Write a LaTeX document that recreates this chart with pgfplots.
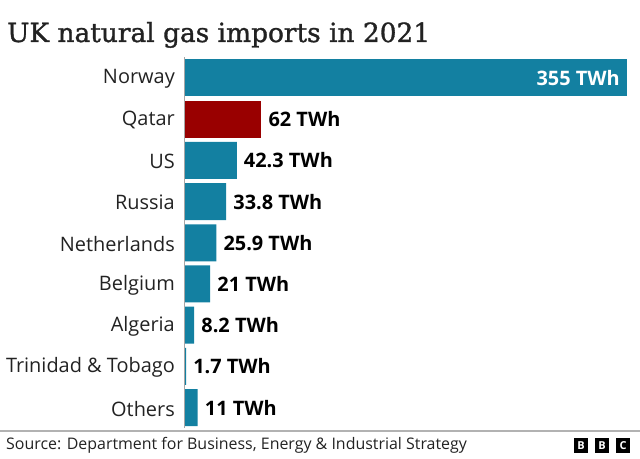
\documentclass[border=0pt]{standalone}
\usepackage{pgfplots}
\pgfplotsset{compat=1.18}
\usepackage{fontspec}
\setmainfont{Open Sans}
\newfontfamily\titlefont{DejaVu Serif}[FakeBold=1.2]
\definecolor{bbcteal}{HTML}{1380A1}
\definecolor{bbcred}{HTML}{990000}
\definecolor{labgrey}{HTML}{222222}
\begin{document}
\begin{tikzpicture}[x=1bp,y=1bp]
\useasboundingbox (0,0) rectangle (640,459);
\node[anchor=base west, inner sep=0, text=labgrey, font=\titlefont\fontsize{26.5}{30}\selectfont] at (7,417) {UK natural gas imports in 2021};
\begin{axis}[
  at={(184bp,30.8bp)}, anchor=south west,
  scale only axis, width=443bp, height=370.8bp,
  xmin=0, xmax=355, ymin=-0.5, ymax=8.5, y dir=reverse,
  axis line style={draw=none}, xtick=\empty,
  ytick={0,...,8},
  yticklabels={Norway,Qatar,US,Russia,Netherlands,Belgium,Algeria,Trinidad \& Tobago,Others},
  yticklabel style={font=\fontsize{20}{22}\selectfont, text=labgrey, inner sep=0pt, xshift=-9bp, yshift=-1bp},
  major tick length=0pt,
  clip=false,
  xbar, bar width=37bp,
  point meta=explicit symbolic,
  nodes near coords,
  nodes near coords style={font=\bfseries\fontsize{20}{22}\selectfont, text=black, anchor=west, inner sep=0pt, xshift=7bp},
]
\addplot[fill=bbcteal, draw=none, bar shift=0pt, nodes near coords style={text=white, anchor=east, xshift=-14bp}] coordinates {(355,0) [355 TWh]};
\addplot[fill=bbcred, draw=none, bar shift=0pt] coordinates {(62,1) [62 TWh]};
\addplot[fill=bbcteal, draw=none, bar shift=0pt] coordinates {
  (42.3,2) [42.3 TWh]
  (33.8,3) [33.8 TWh]
  (25.9,4) [25.9 TWh]
  (21,5) [21 TWh]
  (8.2,6) [8.2 TWh]
  (1.7,7) [1.7 TWh]
  (11,8) [11 TWh]
};
\draw[gray!70, line width=1pt] (axis cs:0,-0.5) -- (axis cs:0,8.5);
\end{axis}
\draw[gray!60, line width=1.5pt] (0,28) -- (640,28);
\node[anchor=base west, inner sep=0, text=labgrey, font=\fontsize{16}{18}\selectfont] at (6,9) {Source: Department for Business, Energy \& Industrial Strategy};
\foreach \x/\l in {574/B,595/B,616/C}{
  \fill[black] (\x,6) rectangle ++(14,15);
  \node[text=white, font=\bfseries\fontsize{11}{11}\selectfont, inner sep=0] at (\x+7,13.5) {\l};
}
\end{tikzpicture}
\end{document}
